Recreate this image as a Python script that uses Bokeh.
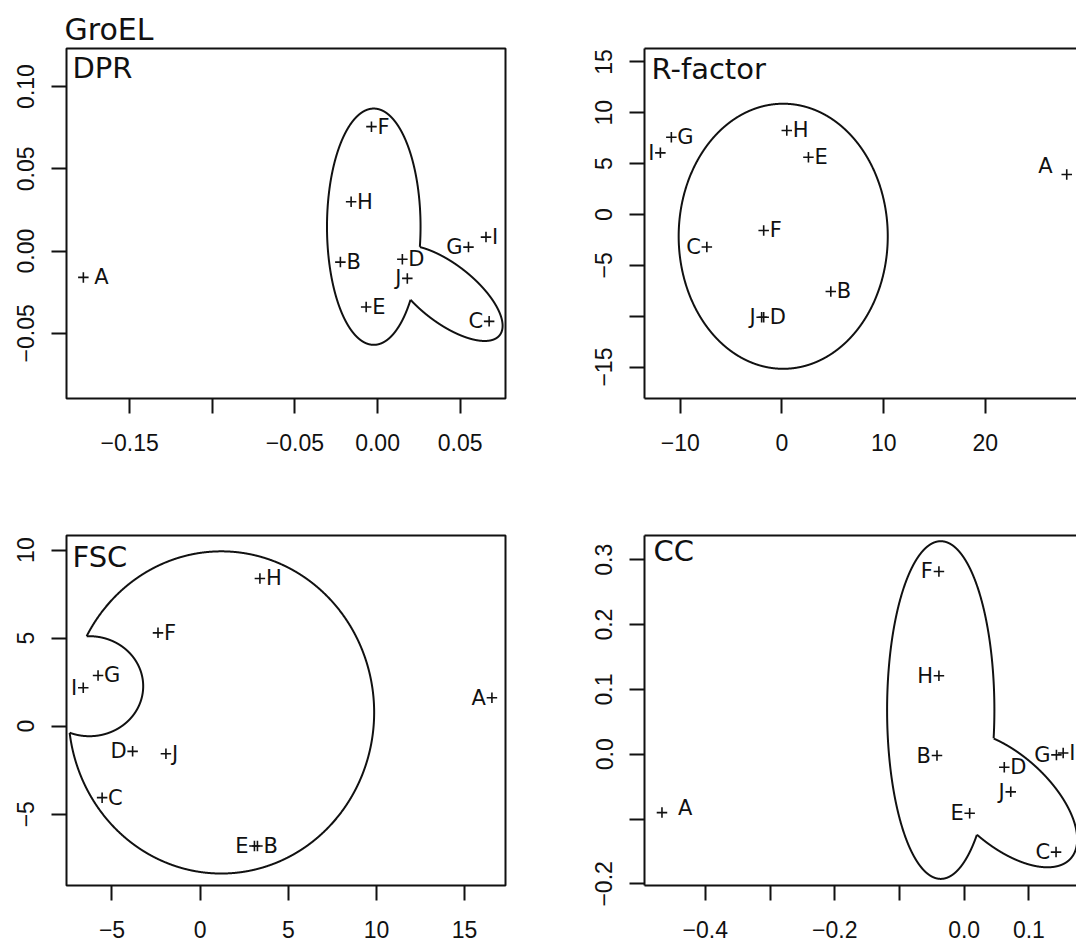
import numpy as np
from bokeh.plotting import figure
from bokeh.layouts import column, row
from bokeh.models import FixedTicker, Label, LinearAxis, ColumnDataSource
from bokeh.embed import file_html
from bokeh.resources import INLINE
from bokeh.core.properties import value

# ---------------- data ----------------
names = ["A", "B", "C", "D", "E", "F", "G", "H", "I", "J"]

dpr_x = [-0.178, -0.0225, 0.0675, 0.015, -0.0069, -0.0037, 0.055, -0.016, 0.0656, 0.018]
dpr_y = [-0.016, -0.0067, -0.0427, -0.005, -0.034, 0.0756, 0.0024, 0.030, 0.0085, -0.0166]
dpr_side = ["R", "R", "L", "R", "R", "R", "L", "R", "R", "L"]

rf_x = [28.0, 4.8, -7.39, -1.8, 2.6, -1.8, -10.88, 0.47, -11.96, -2.0]
rf_y = [3.93, -7.57, -3.2, -10.1, 5.63, -1.57, 7.6, 8.26, 6.06, -10.1]
rf_side = ["L", "R", "L", "R", "R", "R", "R", "R", "L", "L"]

fsc_x = [16.55, 3.25, -5.56, -3.83, 3.08, -2.39, -5.79, 3.39, -6.63, -1.94]
fsc_y = [1.61, -6.81, -4.06, -1.43, -6.81, 5.30, 2.88, 8.39, 2.18, -1.57]
fsc_side = ["L", "R", "R", "L", "L", "R", "R", "R", "L", "R"]

cc_x = [-0.467, -0.042, 0.142, 0.062, 0.0085, -0.039, 0.1426, -0.039, 0.153, 0.072]
cc_y = [-0.090, -0.002, -0.151, -0.020, -0.091, 0.282, -0.001, 0.121, 0.002, -0.058]
cc_side = ["R", "L", "L", "R", "L", "L", "L", "L", "R", "L"]

# hull ellipses: centre, two conjugate semi-axis vectors (data units)
dpr_hull_c = [(-0.0023, 0.0148), (0.0415, -0.0256)]
dpr_hull_u = [(0.0283, 0.0), (0.0324, -0.0255)]
dpr_hull_v = [(0.0, 0.0718), (0.0108, 0.0139)]

rf_hull_c = [(0.12, -2.14)]
rf_hull_u = [(10.28, 0.0)]
rf_hull_v = [(0.0, 13.03)]

fsc_hull_c = [(1.2, 0.78)]
fsc_hull_u = [(8.67, 0.0)]
fsc_hull_v = [(0.0, 9.15)]
fsc_bite_c = (-6.28, 2.27)
fsc_bite_u = (3.05, 0.0)
fsc_bite_v = (0.0, 2.84)

cc_hull_c = [(-0.0362, 0.0682), (0.0624, -0.0691)]
cc_hull_u = [(0.0829, 0.0), (0.1022, -0.0918)]
cc_hull_v = [(0.0, 0.2605), (0.0465, 0.0516)]

# axis ticks: labelled and unlabelled
M = "\u2212"
dpr_xt = [-0.15, -0.05, 0.0, 0.05]
dpr_xl = [M + "0.15", M + "0.05", "0.00", "0.05"]
dpr_xm = [-0.10]
dpr_yt = [-0.05, 0.0, 0.05, 0.10]
dpr_yl = [M + "0.05", "0.00", "0.05", "0.10"]
dpr_ym = []

rf_xt = [-10, 0, 10, 20]
rf_xl = [M + "10", "0", "10", "20"]
rf_xm = []
rf_yt = [-15, -5, 0, 5, 10, 15]
rf_yl = [M + "15", M + "5", "0", "5", "10", "15"]
rf_ym = [-10]

fsc_xt = [-5, 0, 5, 10, 15]
fsc_xl = [M + "5", "0", "5", "10", "15"]
fsc_xm = []
fsc_yt = [-5, 0, 5, 10]
fsc_yl = [M + "5", "0", "5", "10"]
fsc_ym = []

cc_xt = [-0.4, -0.2, 0.0, 0.1]
cc_xl = [M + "0.4", M + "0.2", "0.0", "0.1"]
cc_xm = [-0.3, -0.1]
cc_yt = [-0.2, 0.0, 0.1, 0.2, 0.3]
cc_yl = [M + "0.2", "0.0", "0.1", "0.2", "0.3"]
cc_ym = [-0.1]

# ---------------- helpers ----------------
N = 3000
INK = "#111111"


def ell(c, u, v):
    t = np.linspace(0, 2 * np.pi, N)
    return (c[0] + u[0] * np.cos(t) + v[0] * np.sin(t),
            c[1] + u[1] * np.cos(t) + v[1] * np.sin(t))


def inside(x, y, c, u, v):
    m = np.linalg.inv(np.array([[u[0], v[0]], [u[1], v[1]]]))
    dx, dy = x - c[0], y - c[1]
    a = m[0, 0] * dx + m[0, 1] * dy
    b = m[1, 0] * dx + m[1, 1] * dy
    return a * a + b * b < 1.0


def union_outline(cs, us, vs):
    xs_all, ys_all = [], []
    for i in range(len(cs)):
        x, y = ell(cs[i], us[i], vs[i])
        mask = np.zeros_like(x, dtype=bool)
        for j in range(len(cs)):
            if j != i:
                mask |= inside(x, y, cs[j], us[j], vs[j])
        x = x.copy(); y = y.copy()
        x[mask] = np.nan; y[mask] = np.nan
        xs_all.append(x); ys_all.append(y)
    return xs_all, ys_all


def make_panel(xr, yr, w, h, mbl, mbr, mbt, mbb, open_right):
    p = figure(width=w, height=h, x_range=xr, y_range=yr,
               output_backend="svg", toolbar_location=None,
               min_border_left=mbl, min_border_right=mbr,
               min_border_top=mbt, min_border_bottom=mbb)
    p.grid.visible = False
    p.background_fill_color = "white"
    p.border_fill_color = "white"
    for ax in (p.xaxis, p.yaxis):
        ax.major_tick_out = 15
        ax.major_tick_in = 0
        ax.major_tick_line_width = 2
        ax.major_tick_line_color = INK
        ax.minor_tick_out = 15
        ax.minor_tick_in = 0
        ax.minor_tick_line_width = 2
        ax.minor_tick_line_color = INK
        ax.major_label_text_font = "Liberation Sans"
        ax.major_label_text_font_size = "23px"
        ax.major_label_text_color = INK
    p.xaxis.major_label_standoff = 20
    p.yaxis.major_label_standoff = 17
    p.yaxis.major_label_orientation = "vertical"
    if open_right:
        p.outline_line_color = None
        for ax in (p.xaxis, p.yaxis):
            ax.axis_line_width = 2
            ax.axis_line_color = INK
    else:
        p.outline_line_color = INK
        p.outline_line_width = 2
        p.xaxis.axis_line_color = None
        p.yaxis.axis_line_color = None
    return p


def add_top_line(p):
    top = LinearAxis(ticker=FixedTicker(ticks=[], minor_ticks=[]),
                     axis_line_width=2, axis_line_color=INK,
                     major_tick_line_color=None, minor_tick_line_color=None,
                     major_label_text_alpha=0)
    p.add_layout(top, "above")


def set_ticks(p, xt, xl, xm, yt, yl, ym):
    p.xaxis.ticker = FixedTicker(ticks=xt, minor_ticks=xm)
    p.xaxis.major_label_overrides = {float(t): l for t, l in zip(xt, xl)}
    p.yaxis.ticker = FixedTicker(ticks=yt, minor_ticks=ym)
    p.yaxis.major_label_overrides = {float(t): l for t, l in zip(yt, yl)}


def add_points(p, xs, ys, sides, nudge=None):
    nudge = nudge or {}
    p.scatter(xs, ys, marker="cross", size=10.5, line_width=1.6, color=INK)
    for side, align, off in (("L", "right", -6), ("R", "left", 6)):
        idx = [i for i, s in enumerate(sides) if s == side]
        if not idx:
            continue
        xo = [off + nudge.get(names[i], (0, 0))[0] for i in idx]
        yo = [nudge.get(names[i], (0, 0))[1] for i in idx]
        src = ColumnDataSource(dict(x=[xs[i] for i in idx], y=[ys[i] for i in idx],
                                    t=[names[i] for i in idx], xo=xo, yo=yo))
        p.text(x="x", y="y", text="t", x_offset="xo", y_offset="yo", source=src,
               text_align=align, text_baseline="middle",
               text_font=value("DejaVu Sans"), text_font_size=value("21px"),
               text_color=INK)


def add_title(p, txt, xr, yr, dx, dy):
    p.add_layout(Label(x=xr[0], y=yr[1], text=txt, x_offset=dx, y_offset=dy,
                       text_font="DejaVu Sans", text_font_size="29px",
                       text_color=INK, text_baseline="alphabetic"))


def add_outline(p, xs, ys):
    for x, y in zip(xs, ys):
        p.line(x, y, line_width=2, color=INK, line_join="round")


# ---------------- panels ----------------
dpr_xr, dpr_yr = (-0.1882, 0.0774), (-0.0896, 0.1231)
rf_xr, rf_yr = (-13.52, 28.96), (-18.09, 16.32)
fsc_xr, fsc_yr = (-7.58, 17.32), (-9.05, 10.83)
cc_xr, cc_yr = (-0.494, 0.1736), (-0.2025, 0.3375)

p1 = make_panel(dpr_xr, dpr_yr, 575, 468, 66, 70, 48, 70, False)
set_ticks(p1, dpr_xt, dpr_xl, dpr_xm, dpr_yt, dpr_yl, dpr_ym)
hx, hy = union_outline(dpr_hull_c, dpr_hull_u, dpr_hull_v)
add_outline(p1, hx, hy)
add_points(p1, dpr_x, dpr_y, dpr_side, {"A": (5, 0)})
add_title(p1, "DPR", dpr_xr, dpr_yr, 6, -19)
p1.title.text = "GroEL"
p1.title.text_font = "DejaVu Sans"
p1.title.text_font_size = "30px"
p1.title.text_font_style = "normal"
p1.title.text_color = INK
p1.title.align = "left"
p1.title.offset = -2
p1.title.standoff = 3

p2 = make_panel(rf_xr, rf_yr, 501, 468, 69, 0, 48, 70, True)
set_ticks(p2, rf_xt, rf_xl, rf_xm, rf_yt, rf_yl, rf_ym)
add_top_line(p2)
hx, hy = union_outline(rf_hull_c, rf_hull_u, rf_hull_v)
add_outline(p2, hx, hy)
add_points(p2, rf_x, rf_y, rf_side, {"A": (-8, -9)})
add_title(p2, "R-factor", rf_xr, rf_yr, 7, -20)

p3 = make_panel(fsc_xr, fsc_yr, 575, 478, 66, 70, 67, 61, False)
set_ticks(p3, fsc_xt, fsc_xl, fsc_xm, fsc_yt, fsc_yl, fsc_ym)
bx, by = ell(fsc_hull_c[0], fsc_hull_u[0], fsc_hull_v[0])
m1 = inside(bx, by, fsc_bite_c, fsc_bite_u, fsc_bite_v)
bx = bx.copy(); by = by.copy(); bx[m1] = np.nan; by[m1] = np.nan
sx, sy = ell(fsc_bite_c, fsc_bite_u, fsc_bite_v)
m2 = ~inside(sx, sy, fsc_hull_c[0], fsc_hull_u[0], fsc_hull_v[0])
sx = sx.copy(); sy = sy.copy(); sx[m2] = np.nan; sy[m2] = np.nan
add_outline(p3, [bx, sx], [by, sy])
add_points(p3, fsc_x, fsc_y, fsc_side)
add_title(p3, "FSC", fsc_xr, fsc_yr, 6, -21)

p4 = make_panel(cc_xr, cc_yr, 501, 478, 69, 0, 67, 61, True)
set_ticks(p4, cc_xt, cc_xl, cc_xm, cc_yt, cc_yl, cc_ym)
add_top_line(p4)
hx, hy = union_outline(cc_hull_c, cc_hull_u, cc_hull_v)
add_outline(p4, hx, hy)
add_points(p4, cc_x, cc_y, cc_side, {"A": (10, -5)})
add_title(p4, "CC", cc_xr, cc_yr, 9, -15)

layout = column(row(p1, p2), row(p3, p4))
open("out.html", "w").write(file_html(layout, INLINE))
